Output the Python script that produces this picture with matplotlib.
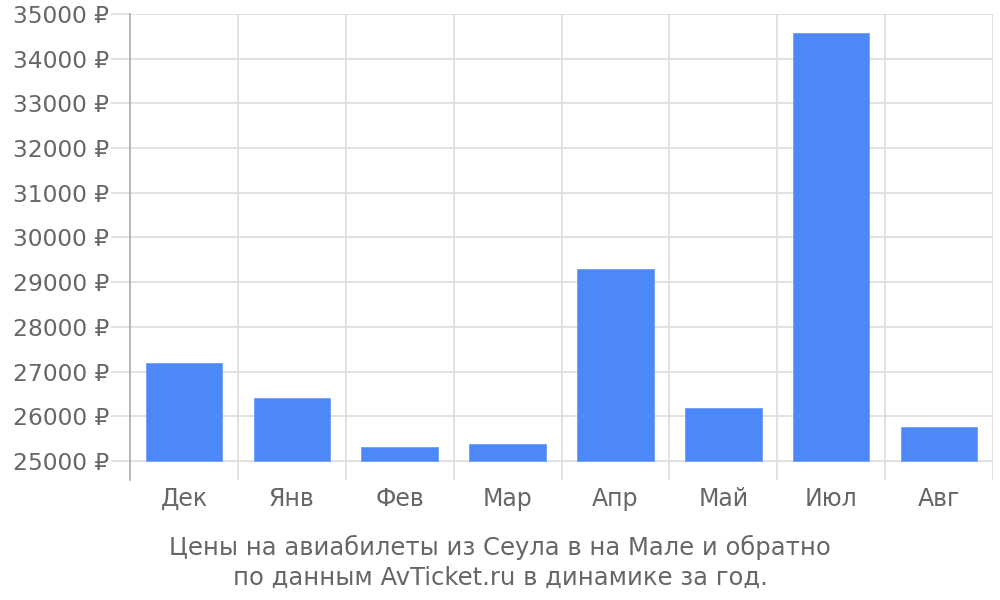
import matplotlib.pyplot as plt
import numpy as np

months = ['Дек', 'Янв', 'Фев', 'Мар', 'Апр', 'Май', 'Июл', 'Авг']
prices = [27200, 26420, 25320, 25370, 29300, 26190, 34570, 25760]
yticks = list(range(25000, 35001, 1000))
caption = 'Цены на авиабилеты из Сеула в на Мале и обратно\nпо данным AvTicket.ru в динамике за год.'

plt.rcParams['font.family'] = ['DejaVu Sans']
txt = '#666666'
grid = '#dddddd'

fig = plt.figure(figsize=(10, 6), dpi=100)
ax = fig.add_axes([0.13, 0.2, 0.863, 0.7767])

x = np.arange(len(months))
base = 25000
ax.bar(x, [p - base for p in prices], bottom=base, width=0.71,
       color='#4d88f9', edgecolor='#6f9ffa', linewidth=0.6, zorder=3)

ax.set_xlim(-0.5, len(months) - 0.5)
ax.set_ylim(24575, 35000)

# horizontal grid
ax.set_yticks(yticks)
ax.set_yticklabels([f'{v} ₽' for v in yticks], color=txt, fontsize=16.8)
for v in yticks:
    ax.axhline(v, color=grid, lw=1.2, zorder=1)
ax.tick_params(axis='y', length=14, color=grid, width=1.2, pad=1)

# vertical grid at category boundaries
bounds = np.arange(len(months) + 1) - 0.5
for b in bounds[1:]:
    ax.axvline(b, color=grid, lw=1.2, zorder=1)
ax.set_xticks(x)
ax.set_xticklabels(months, color=txt, fontsize=17)
ax.tick_params(axis='x', length=0, pad=5)

for s in ['top', 'right', 'bottom']:
    ax.spines[s].set_visible(False)
ax.spines['left'].set_color('#aaaaaa')
ax.spines['left'].set_linewidth(1.2)

fig.text(0.5, 0.063, caption, ha='center', va='center', color=txt,
         fontsize=17.5, linespacing=1.3)

fig.savefig('out.png')
